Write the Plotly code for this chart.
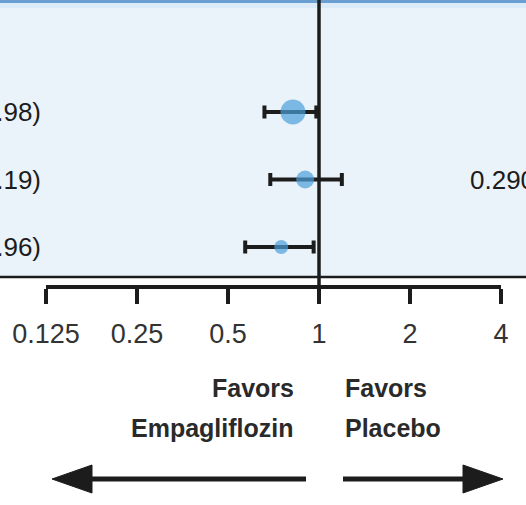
import plotly.graph_objects as go

# Hazard ratios with 95% CIs, one row per subgroup (top to bottom)
rows = [1, 2, 3]
hr = [0.82, 0.90, 0.75]
ci_low = [0.66, 0.69, 0.57]
ci_high = [0.98, 1.19, 0.96]
marker_sizes = [25, 18, 14]
p_interaction = "0.290"

tick_vals = [0.125, 0.25, 0.5, 1, 2, 4]
tick_text = ["0.125", "0.25", "0.5", "1", "2", "4"]

W, H = 526, 505
FONT = "Liberation Sans, Arial, sans-serif"
INK = "#1c1c1c"
DOT = "#4c9fda"
PANEL = "#ebf3fa"


def px(x):
    return x / W


def py(y):
    return 1 - y / H


fig = go.Figure()

fig.add_trace(go.Scatter(
    x=hr, y=rows, mode="markers",
    marker=dict(size=marker_sizes, color=DOT, line=dict(width=0)),
    error_x=dict(
        type="data", symmetric=False,
        array=[h - m for h, m in zip(ci_high, hr)],
        arrayminus=[m - l for m, l in zip(hr, ci_low)],
        color=INK, thickness=4, width=6.5,
    ),
    showlegend=False, hoverinfo="skip",
))

shapes = [
    # shaded subgroup panel
    dict(type="rect", xref="paper", yref="paper", x0=0, x1=1, y0=py(277), y1=1,
         fillcolor=PANEL, line=dict(width=0), layer="below"),
    dict(type="rect", xref="paper", yref="paper", x0=0, x1=1, y0=py(3), y1=1,
         fillcolor="#6b9fd2", line=dict(width=0), layer="below"),
    dict(type="rect", xref="paper", yref="paper", x0=0, x1=1, y0=py(8), y1=py(3),
         fillcolor="#dcebf8", line=dict(width=0), layer="below"),
    dict(type="line", xref="paper", yref="paper", x0=0, x1=1, y0=py(277), y1=py(277),
         line=dict(color=INK, width=2.5)),
    # line of no effect
    dict(type="line", xref="x", yref="paper", x0=1, x1=1, y0=py(301), y1=1,
         line=dict(color=INK, width=3.5)),
    # direction arrows
    dict(type="line", xref="paper", yref="paper", x0=px(306), x1=px(85), y0=py(479), y1=py(479),
         line=dict(color=INK, width=5)),
    dict(type="path", xref="paper", yref="paper",
         path=f"M {px(52)} {py(479)} L {px(92)} {py(465)} L {px(92)} {py(493)} Z",
         fillcolor=INK, line=dict(color=INK, width=1)),
    dict(type="line", xref="paper", yref="paper", x0=px(343), x1=px(470), y0=py(479), y1=py(479),
         line=dict(color=INK, width=5)),
    dict(type="path", xref="paper", yref="paper",
         path=f"M {px(503)} {py(479)} L {px(463)} {py(465)} L {px(463)} {py(493)} Z",
         fillcolor=INK, line=dict(color=INK, width=1)),
]

ann = []
row_px = [112, 180, 247]
for r, h, lo, hi in zip(row_px, hr, ci_low, ci_high):
    ann.append(dict(text=f"{h:.2f} ({lo:.2f}-{hi:.2f})", x=px(43), y=py(r),
                    xanchor="right", yanchor="middle",
                    font=dict(size=26, color=INK, family=FONT)))
ann.append(dict(text=p_interaction, x=px(468), y=py(180), xanchor="left", yanchor="middle",
                font=dict(size=26, color=INK, family=FONT)))
for txt, x, xa, y in [("Favors", 296, "right", 388), ("Empagliflozin", 296, "right", 428),
                      ("Favors", 343, "left", 388), ("Placebo", 343, "left", 428)]:
    ann.append(dict(text=f"<b>{txt}</b>", x=px(x), y=py(y), xanchor=xa, yanchor="middle",
                    font=dict(size=25, color="#2a2a2a", family=FONT)))
for a in ann:
    a.update(xref="paper", yref="paper", showarrow=False)

fig.update_layout(
    width=W, height=H, margin=dict(l=0, r=0, t=0, b=0, pad=0, autoexpand=False),
    paper_bgcolor="white", plot_bgcolor="rgba(0,0,0,0)",
    shapes=shapes, annotations=ann,
    xaxis=dict(
        type="log", domain=[px(46), px(501)],
        range=[-0.90309, 0.60206], automargin=False,
        anchor="free", position=py(287),
        showline=True, linewidth=4, linecolor=INK,
        ticks="outside", ticklen=15, tickwidth=4, tickcolor=INK,
        ticklabelstandoff=7,
        tickvals=tick_vals, ticktext=tick_text,
        tickfont=dict(size=27, color="#333333", family=FONT),
        showgrid=False, zeroline=False,
    ),
    yaxis=dict(
        range=[1 + (H - row_px[0]) / 67.5, 1 - row_px[0] / 67.5],
        visible=False, showgrid=False, zeroline=False, automargin=False,
    ),
)

fig.write_html("out.html")
